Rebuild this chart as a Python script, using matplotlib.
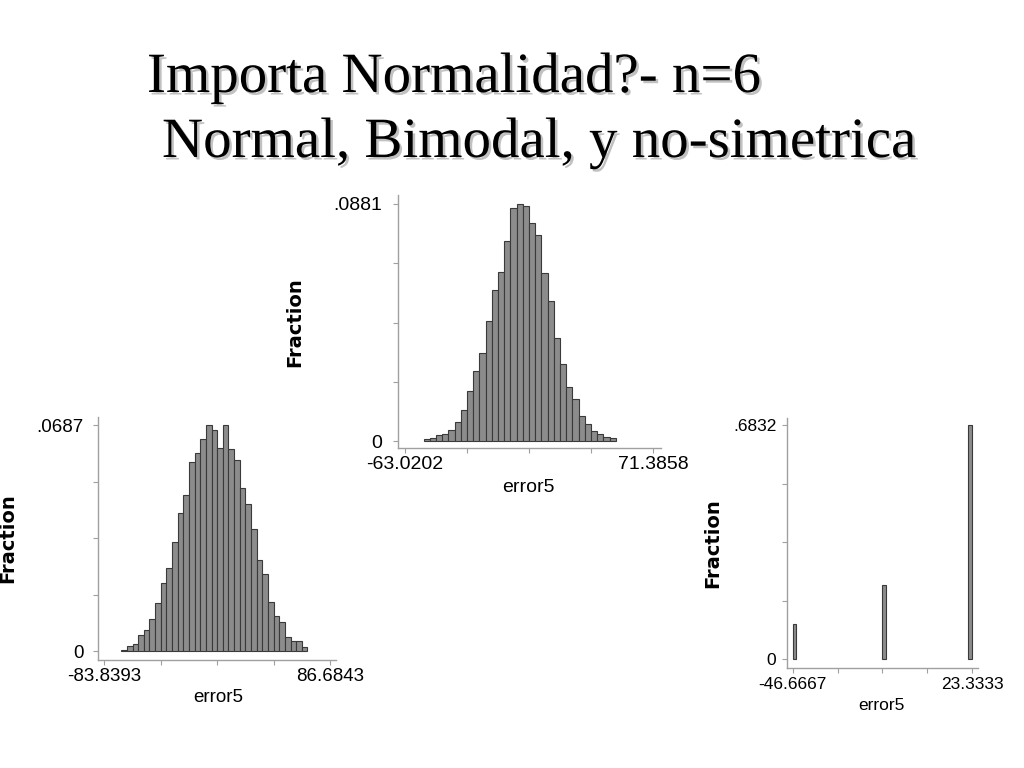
import numpy as np
import matplotlib
matplotlib.use("Agg")
import matplotlib.pyplot as plt
import matplotlib.patheffects as pe

# ---------------- data ----------------
title_line1 = "Importa Normalidad?- n=6"
title_line2 = "Normal, Bimodal, y no-simetrica"

# Panel A (bottom-left): normal-ish, 40 bins from min to max
a_range = (-83.8393, 86.6843)
a_frac = [0, 0, 0,
          0.0004, 0.0015, 0.0020, 0.0049, 0.0064, 0.0096, 0.0147, 0.0206, 0.0251, 0.0330,
          0.0421, 0.0474, 0.0574, 0.0603, 0.0644, 0.0687, 0.0672, 0.0617, 0.0687, 0.0613,
          0.0580, 0.0497, 0.0446, 0.0370, 0.0278, 0.0233, 0.0149, 0.0107, 0.0088, 0.0042,
          0.0029, 0.0029, 0.0011,
          0, 0, 0, 0]
a_ticklabels = ["-83.8393", "86.6843", ".0687", "0"]

# Panel B (top-middle): normal, 40 bins
b_range = (-63.0202, 71.3858)
b_frac = [0, 0, 0,
          0.0006, 0.0011, 0.0021, 0.0026, 0.0040, 0.0071, 0.0114, 0.0187, 0.0259, 0.0327,
          0.0445, 0.0562, 0.0627, 0.0744, 0.0866, 0.0881, 0.0875, 0.0811, 0.0764, 0.0626,
          0.0519, 0.0382, 0.0288, 0.0200, 0.0155, 0.0093, 0.0065, 0.0038, 0.0025, 0.0015,
          0.0011,
          0, 0, 0, 0, 0, 0]
b_ticklabels = ["-63.0202", "71.3858", ".0881", "0"]

# Panel C (bottom-right): discrete values, 50 bins
c_range = (-46.6667, 23.3333)
c_values = [-46.6667, -11.6667, 23.3333]
c_frac = [0.1010, 0.2158, 0.6832]
c_nbins = 50
c_ticklabels = ["-46.6667", "23.3333", ".6832", "0"]

xlabel = "error5"
ylabel = "Fraction"

# ---------------- figure ----------------
W, H = 1024, 768
fig = plt.figure(figsize=(W / 100, H / 100), dpi=100)
fig.patch.set_facecolor("white")

BAR_FACE = "#8c8c8c"
BAR_EDGE = "#3a3a3a"
AX_COL = "#a0a0a0"
SANS = ["Liberation Sans", "DejaVu Sans"]


def make_axes(box, xmap, ymap):
    L, T, R, B = box
    ax = fig.add_axes([L / W, 1 - B / H, (R - L) / W, (B - T) / H])
    (xv1, xp1), (xv2, xp2) = xmap
    bx = (xp2 - xp1) / (xv2 - xv1)
    ax.set_xlim(xv1 + (L - xp1) / bx, xv1 + (R - xp1) / bx)
    (yv1, yp1), (yv2, yp2) = ymap
    by = (yp1 - yp2) / (yv2 - yv1)
    ax.set_ylim(yv1 + (yp1 - B) / by, yv1 + (yp1 - T) / by)
    ax.patch.set_alpha(0)
    for s in ("top", "right"):
        ax.spines[s].set_visible(False)
    for s in ("left", "bottom"):
        ax.spines[s].set_color(AX_COL)
        ax.spines[s].set_linewidth(1.0)
    ax.tick_params(colors=AX_COL, length=3.6, width=0.8, direction="out",
                   labelcolor="black")
    return ax


def style_ticks(ax, rng, ymax, labels, fs, ypad, xpad, family=SANS):
    xt = np.linspace(rng[0], rng[1], 5)
    ax.set_xticks(xt)
    ax.set_xticklabels([labels[0], "", "", "", labels[1]])
    yt = np.linspace(0, ymax, 5)
    ax.set_yticks(yt)
    ax.set_yticklabels([labels[3], "", "", "", labels[2]])
    for t in ax.get_xticklabels() + ax.get_yticklabels():
        t.set_fontfamily(family)
        t.set_fontsize(fs)
    ax.tick_params(axis="y", pad=ypad)
    ax.tick_params(axis="x", pad=xpad)


def draw_hist(ax, rng, frac):
    n = len(frac)
    edges = np.linspace(rng[0], rng[1], n + 1)
    w = edges[1] - edges[0]
    f = np.asarray(frac, dtype=float)
    m = f > 0
    ax.bar(edges[:-1][m], f[m], width=w, align="edge",
           facecolor=BAR_FACE, edgecolor=BAR_EDGE, linewidth=0.8)


# Panel A
axA = make_axes((98, 417, 336, 660), ((a_range[0], 104.3), (a_range[1], 330)),
                ((0, 651), (0.0687, 425)))
draw_hist(axA, a_range, a_frac)
style_ticks(axA, a_range, 0.0687, a_ticklabels, 13.5, 7, 2)

# Panel B
axB = make_axes((398, 195, 661, 448), ((b_range[0], 405), (b_range[1], 653)),
                ((0, 441), (0.0881, 204)))
draw_hist(axB, b_range, b_frac)
style_ticks(axB, b_range, 0.0881, b_ticklabels, 14, 8, 2)

# Panel C
axC = make_axes((787, 418, 978, 668), ((c_range[0], 792.7), (c_range[1], 972)),
                ((0, 659), (0.6832, 425)))
cw = (c_range[1] - c_range[0]) / c_nbins
c_idx = np.clip(np.floor((np.array(c_values) - c_range[0]) / cw + 1e-9), 0, c_nbins - 1)
c_left = c_range[0] + c_idx * cw
axC.bar(c_left, c_frac, width=cw, align="edge",
        facecolor=BAR_FACE, edgecolor=BAR_EDGE, linewidth=0.8)
style_ticks(axC, c_range, 0.6832, c_ticklabels, 12.5, 4, 3)

# axis titles
def ptext(x, y, s, **kw):
    fig.text(x / W, 1 - y / H, s, **kw)

lab_kw = dict(fontsize=14, fontfamily=["DejaVu Sans"], fontweight="bold",
              rotation=90, ha="center", va="center", color="black")
ptext(295, 322, ylabel, **lab_kw)
ptext(8, 538, ylabel, **lab_kw)
ptext(713, 543, ylabel, **lab_kw)

ptext(528, 487, xlabel, fontsize=14, fontfamily=SANS, ha="center", va="center")
ptext(218, 697, xlabel, fontsize=13.5, fontfamily=SANS, ha="center", va="center")
ptext(881, 706, xlabel, fontsize=12.5, fontfamily=SANS, ha="center", va="center")

# title with drop shadow
shadow = [pe.SimplePatchShadow(offset=(1.8, -1.8), shadow_rgbFace="#999999", alpha=0.6),
          pe.Normal()]
t_kw = dict(fontsize=41, fontfamily=["Liberation Serif", "DejaVu Serif"],
            ha="left", va="baseline", color="black", path_effects=shadow)
ptext(147, 92, title_line1, **t_kw)
ptext(162, 157, title_line2, **t_kw)

fig.savefig("out.png", dpi=100, facecolor="white")
